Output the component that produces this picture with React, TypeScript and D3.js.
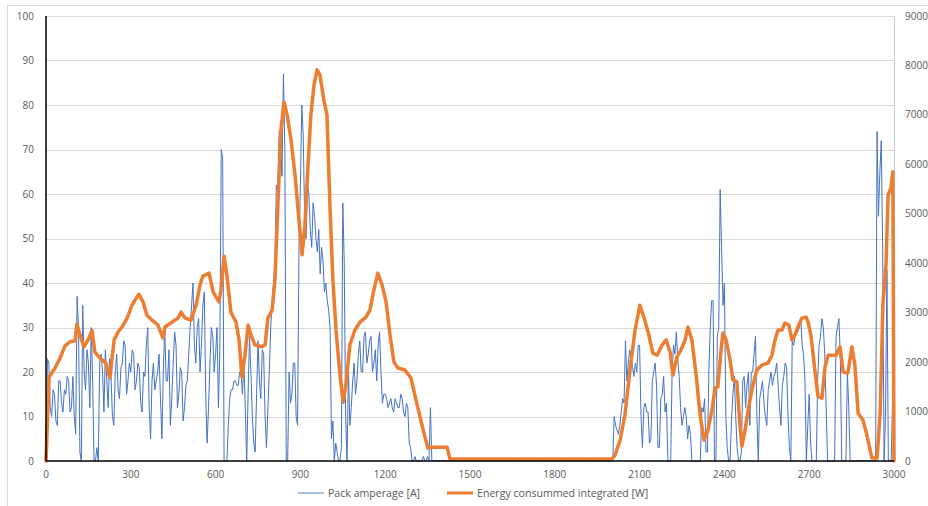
import React, { useEffect, useRef } from "react";
import * as d3 from "d3";

// axis ticks
const xTicks = [0, 300, 600, 900, 1200, 1500, 1800, 2100, 2400, 2700, 3000];
const leftTicks = [0, 10, 20, 30, 40, 50, 60, 70, 80, 90, 100];
const rightTicks = [0, 1000, 2000, 3000, 4000, 5000, 6000, 7000, 8000, 9000];

// pack amperage [A], one sample every 5 s from 0 to 3000 (one row = 100 s)
const ampStep = 5;
const ampValues = [
  0, 23, 22, 12, 10, 16, 15, 9, 8, 18, 18, 13, 11, 16, 15, 19, 18, 11, 12, 19,
  10, 6, 37, 30, 2, 0, 35, 20, 16, 25, 22, 12, 30, 18, 0, 0, 3, 0, 22, 24,
  20, 11, 25, 18, 12, 23, 19, 10, 8, 20, 24, 16, 14, 21, 22, 27, 26, 15, 18, 22,
  20, 25, 24, 16, 18, 22, 21, 13, 11, 20, 19, 26, 30, 12, 5, 18, 22, 16, 18, 20,
  24, 14, 5, 20, 30, 18, 18, 25, 8, 14, 22, 29, 26, 12, 15, 21, 20, 9, 12, 17,
  18, 24, 30, 35, 40, 26, 22, 30, 32, 20, 26, 35, 38, 15, 4, 12, 22, 30, 28, 20,
  24, 30, 12, 25, 70, 68, 0, 0, 0, 8, 14, 16, 16, 18, 18, 17, 17, 20, 20, 15,
  22, 12, 0, 15, 28, 20, 10, 4, 2, 15, 27, 18, 14, 25, 24, 10, 3, 12, 20, 30,
  36, 40, 45, 62, 61, 74, 72, 64, 87, 70, 0, 0, 20, 13, 15, 22, 22, 10, 8, 48,
  62, 80, 73, 55, 50, 62, 60, 52, 48, 58, 55, 50, 47, 52, 42, 48, 45, 38, 40, 36,
  34, 30, 5, 9, 0, 4, 2, 0, 0, 3, 58, 45, 10, 0, 20, 8, 12, 18, 22, 15,
  18, 24, 27, 20, 20, 28, 29, 22, 24, 27, 28, 20, 22, 25, 18, 26, 29, 20, 13, 15,
  15, 14, 12, 13, 14, 12, 11, 14, 13, 12, 12, 15, 14, 11, 10, 13, 12, 4, 3, 0,
  0, 1, 0, 0, 0, 0, 0, 1, 0, 0, 1, 0, 12, 0, 0, 0, 0, 0, 0, 0,
  0, 0, 0, 0, 0, 0, 0, 0, 0, 0, 0, 0, 0, 0, 0, 0, 0, 0, 0, 0,
  0, 0, 0, 0, 0, 0, 0, 0, 0, 0, 0, 0, 0, 0, 0, 0, 0, 0, 0, 0,
  0, 0, 0, 0, 0, 0, 0, 0, 0, 0, 0, 0, 0, 0, 0, 0, 0, 0, 0, 0,
  0, 0, 0, 0, 0, 0, 0, 0, 0, 0, 0, 0, 0, 0, 0, 0, 0, 0, 0, 0,
  0, 0, 0, 0, 0, 0, 0, 0, 0, 0, 0, 0, 0, 0, 0, 0, 0, 0, 0, 0,
  0, 0, 0, 0, 0, 0, 0, 0, 0, 0, 0, 0, 0, 0, 0, 0, 0, 0, 0, 0,
  0, 0, 10, 8, 7, 6, 8, 11, 14, 13, 27, 18, 22, 25, 23, 21, 19, 22, 20, 26,
  26, 10, 3, 12, 13, 11, 11, 4, 5, 18, 20, 22, 17, 3, 3, 14, 15, 19, 11, 13,
  0, 0, 0, 20, 26, 24, 29, 23, 19, 12, 8, 10, 12, 10, 5, 8, 6, 0, 0, 0,
  0, 0, 0, 0, 12, 11, 14, 2, 2, 20, 30, 36, 36, 0, 0, 28, 30, 61, 48, 35,
  40, 10, 3, 0, 0, 9, 15, 19, 10, 3, 0, 0, 2, 18, 19, 12, 17, 20, 8, 20,
  20, 24, 28, 10, 0, 14, 16, 18, 13, 10, 8, 16, 18, 20, 17, 19, 20, 22, 17, 12,
  8, 17, 19, 22, 21, 10, 3, 0, 27, 26, 28, 29, 29, 30, 32, 26, 24, 18, 0, 8,
  15, 4, 0, 0, 0, 0, 18, 26, 28, 32, 30, 24, 12, 0, 0, 0, 0, 0, 0, 28,
  30, 32, 24, 0, 0, 0, 0, 20, 12, 0, 0, 0, 0, 0, 0, 0, 0, 0, 0, 0,
  0, 0, 0, 0, 0, 0, 0, 0, 74, 55, 65, 72, 47, 0, 10, 43, 0, 0, 0, 14,
  16,
];

// energy consummed integrated [W], read at irregular times
const energyTimes = [
  0, 11, 32, 50, 67, 85, 103, 109, 120, 134, 149, 163, 173, 191, 212, 226, 241, 255, 269, 287,
  304, 322, 329, 343, 357, 375, 396, 414, 421, 446, 467, 478, 492, 513, 531, 545, 555, 577, 591, 601,
  612, 619, 630, 640, 654, 672, 683, 693, 704, 715, 725, 739, 764, 775, 785, 800, 810, 821, 831, 842,
  853, 867, 881, 895, 906, 916, 927, 937, 948, 959, 969, 983, 994, 1005, 1015, 1026, 1040, 1051, 1061, 1075,
  1093, 1111, 1132, 1146, 1160, 1174, 1189, 1203, 1217, 1231, 1245, 1270, 1291, 1309, 1330, 1351, 1366, 1419, 1429, 2002,
  2013, 2031, 2048, 2066, 2084, 2101, 2116, 2130, 2147, 2162, 2180, 2194, 2208, 2218, 2232, 2246, 2261, 2271, 2285, 2300,
  2314, 2328, 2342, 2356, 2367, 2377, 2388, 2395, 2406, 2420, 2430, 2444, 2455, 2462, 2473, 2487, 2501, 2515, 2533, 2554,
  2568, 2579, 2590, 2604, 2614, 2628, 2639, 2650, 2660, 2674, 2689, 2696, 2706, 2720, 2731, 2745, 2756, 2767, 2795, 2809,
  2820, 2837, 2851, 2862, 2873, 2890, 2904, 2922, 2940, 2951, 2961, 2972, 2979, 2989, 2996, 3000,
];
const energyValues = [
  0, 1700, 1880, 2080, 2330, 2410, 2430, 2770, 2550, 2310, 2450, 2640, 2200, 2080, 1980, 1680, 2450, 2610, 2710, 2890,
  3150, 3320, 3370, 3220, 2950, 2850, 2750, 2490, 2710, 2810, 2890, 3010, 2890, 2850, 3150, 3560, 3740, 3800, 3420, 3320,
  3220, 3460, 4140, 3760, 3010, 2810, 2450, 1700, 2140, 2750, 2550, 2350, 2310, 2350, 2890, 3050, 3660, 5280, 6690, 7260,
  7000, 6490, 5780, 4870, 4170, 4770, 5990, 7000, 7600, 7910, 7810, 7300, 7000, 5080, 3660, 2650, 1740, 1190, 1540, 2350,
  2650, 2810, 2910, 3050, 3460, 3800, 3560, 3220, 2550, 2000, 1880, 1840, 1680, 1230, 730, 260, 280, 280, 40, 40,
  120, 420, 930, 1840, 2650, 3150, 2890, 2610, 2180, 2140, 2350, 2450, 2200, 1740, 2100, 2240, 2450, 2710, 2450, 1740,
  930, 420, 630, 1030, 1480, 1500, 2240, 2590, 2450, 2040, 1640, 1600, 730, 300, 630, 1130, 1540, 1840, 1940, 1980,
  2140, 2450, 2650, 2650, 2790, 2750, 2450, 2550, 2710, 2890, 2910, 2810, 2550, 1840, 1310, 1270, 1900, 2140, 2140, 2310,
  1800, 1780, 2310, 1920, 970, 830, 530, 60, 60, 970, 3200, 4000, 5380, 5520, 5850, 0,
];

const W = 928;
const H = 506;

const App = () => {
  const svgRef = useRef<SVGSVGElement>(null);

  useEffect(() => {
    const svg = d3.select(svgRef.current);
    svg.selectAll("*").remove();

    const x = d3.scaleLinear().domain([0, 3000]).range([46, 894]);
    const yLeft = d3.scaleLinear().domain([0, 100]).range([461, 16]);
    const yRight = d3.scaleLinear().domain([0, 9000]).range([461, 16]);

    const font = "'Open Sans', sans-serif";
    const labelColor = "#595959";

    // outer chart frame
    svg
      .append("rect")
      .attr("x", 7.5)
      .attr("y", 5.5)
      .attr("width", 940)
      .attr("height", 520)
      .attr("fill", "white")
      .attr("stroke", "#d9d9d9");

    // gridlines
    svg
      .append("g")
      .selectAll("line")
      .data(leftTicks.filter((d) => d > 0))
      .join("line")
      .attr("x1", 46)
      .attr("x2", 894)
      .attr("y1", (d) => Math.round(yLeft(d)) + 0.5)
      .attr("y2", (d) => Math.round(yLeft(d)) + 0.5)
      .attr("stroke", "#d9d9d9");

    // right plot border
    svg
      .append("line")
      .attr("x1", 894.5)
      .attr("x2", 894.5)
      .attr("y1", 16)
      .attr("y2", 461)
      .attr("stroke", "#c5d1e0");

    // amperage series
    const ampLine = d3
      .line<number>()
      .x((d, i) => x(i * ampStep))
      .y((d) => yLeft(d));
    svg
      .append("path")
      .datum(ampValues)
      .attr("d", ampLine)
      .attr("fill", "none")
      .attr("stroke", "#4472c4")
      .attr("stroke-width", 1)
      .attr("stroke-linejoin", "round");

    // energy series
    const energyLine = d3
      .line<number>()
      .x((d, i) => x(energyTimes[i]))
      .y((d) => yRight(d));
    svg
      .append("path")
      .datum(energyValues)
      .attr("d", energyLine)
      .attr("fill", "none")
      .attr("stroke", "#ed7d31")
      .attr("stroke-width", 3.5)
      .attr("stroke-linejoin", "round")
      .attr("stroke-linecap", "round");

    // axis lines
    svg
      .append("line")
      .attr("x1", 46)
      .attr("x2", 46)
      .attr("y1", 16)
      .attr("y2", 461)
      .attr("stroke", "#000")
      .attr("stroke-width", 1.5);
    svg
      .append("line")
      .attr("x1", 46)
      .attr("x2", 894)
      .attr("y1", 461)
      .attr("y2", 461)
      .attr("stroke", "#000")
      .attr("stroke-width", 1.5);

    // tick labels
    svg
      .append("g")
      .selectAll("text")
      .data(leftTicks)
      .join("text")
      .attr("x", 34)
      .attr("y", (d) => yLeft(d))
      .attr("dy", "0.35em")
      .attr("text-anchor", "end")
      .attr("font-family", font)
      .attr("font-size", 10)
      .attr("fill", labelColor)
      .text((d) => d);

    svg
      .append("g")
      .selectAll("text")
      .data(rightTicks)
      .join("text")
      .attr("x", 905)
      .attr("y", (d) => yRight(d))
      .attr("dy", "0.35em")
      .attr("font-family", font)
      .attr("font-size", 10)
      .attr("fill", labelColor)
      .text((d) => d);

    svg
      .append("g")
      .selectAll("text")
      .data(xTicks)
      .join("text")
      .attr("x", (d) => x(d))
      .attr("y", 474)
      .attr("dy", "0.35em")
      .attr("text-anchor", "middle")
      .attr("font-family", font)
      .attr("font-size", 10)
      .attr("fill", labelColor)
      .text((d) => d);

    // legend
    const legend = svg.append("g");
    legend
      .append("line")
      .attr("x1", 298)
      .attr("x2", 324)
      .attr("y1", 493)
      .attr("y2", 493)
      .attr("stroke", "#8eaadb")
      .attr("stroke-width", 1.5);
    legend
      .append("text")
      .attr("x", 328)
      .attr("y", 493)
      .attr("dy", "0.35em")
      .attr("font-family", font)
      .attr("font-size", 10.6)
      .attr("fill", labelColor)
      .text("Pack amperage [A]");
    legend
      .append("line")
      .attr("x1", 447)
      .attr("x2", 473)
      .attr("y1", 493)
      .attr("y2", 493)
      .attr("stroke", "#ed7d31")
      .attr("stroke-width", 3);
    legend
      .append("text")
      .attr("x", 477)
      .attr("y", 493)
      .attr("dy", "0.35em")
      .attr("font-family", font)
      .attr("font-size", 10.6)
      .attr("fill", labelColor)
      .text("Energy consummed integrated [W]");
  }, []);

  return (
    <svg
      ref={svgRef}
      width={W}
      height={H}
      style={{ position: "absolute", left: 0, top: 0, background: "white" }}
    ></svg>
  );
};

export default App;
